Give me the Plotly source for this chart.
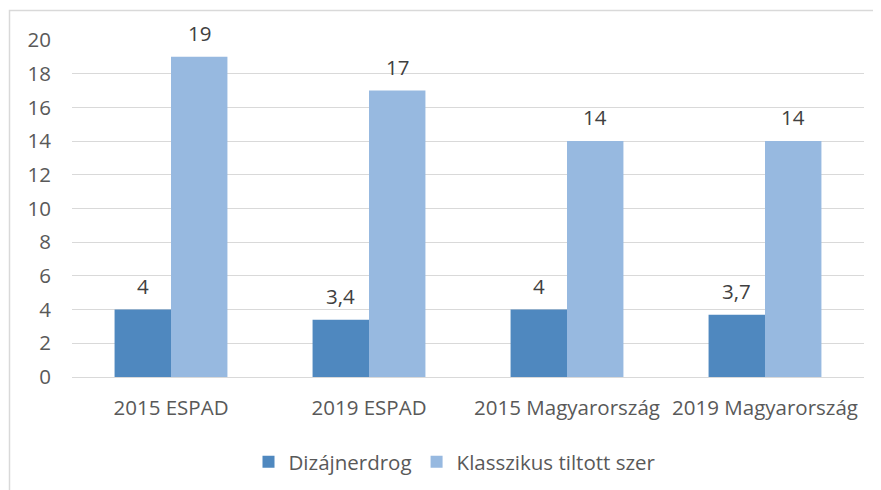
import plotly.graph_objects as go

categories = ["2015 ESPAD", "2019 ESPAD", "2015 Magyarország", "2019 Magyarország"]
dizajnerdrog = [4, 3.4, 4, 3.7]
klasszikus = [19, 17, 14, 14]
series_names = ["Dizájnerdrog", "Klasszikus tiltott szer"]
y_ticks = [0, 2, 4, 6, 8, 10, 12, 14, 16, 18, 20]

def fmt(v):
    return ("%g" % v).replace(".", ",")

FONT = "Open Sans, sans-serif"
FS = 20.5
TXT = "#595959"

fig = go.Figure()
fig.add_trace(go.Bar(
    x=categories, y=dizajnerdrog, name=series_names[0],
    marker=dict(color="#4F88BF", line=dict(width=0)),
))
fig.add_trace(go.Bar(
    x=categories, y=klasszikus, name=series_names[1],
    marker=dict(color="#97B9E0", line=dict(width=0)),
))

OFF = 8  # page body margin
W, H = 881 - OFF, 490 - OFF
L, R, T, B = 72 - OFF, 17, 40 - OFF, 113
pw, ph = W - L - R, H - T - B
# convert page pixel coords to paper coords
def px(x): return (x - OFF - L) / pw
def py(y): return (H - B - (y - OFF)) / ph

bar_w = pw / len(categories) * (1 - 0.43) / 2
annotations = []
for vals, sgn in ((dizajnerdrog, -1), (klasszikus, 1)):
    for c, v in zip(categories, vals):
        annotations.append(dict(
            x=c, y=v, xref="x", yref="y", text=fmt(v), showarrow=False,
            xshift=sgn * bar_w / 2, yanchor="bottom", yshift=8,
            font=dict(family=FONT, size=FS, color="#404040"),
        ))

fig.update_layout(
    width=W, height=H,
    margin=dict(l=L, r=R, t=T, b=B, autoexpand=False),
    paper_bgcolor="white", plot_bgcolor="white",
    barmode="group", bargap=0.43, bargroupgap=0,
    separators=",.",
    font=dict(family=FONT, size=FS, color=TXT),
    showlegend=True,
    legend=dict(orientation="h", x=px(455), xanchor="center", y=py(462), yanchor="middle",
                font=dict(size=FS, color=TXT), itemwidth=30, traceorder="normal",
                itemclick=False),
    xaxis=dict(showgrid=False, showline=False, ticks="", ticklabelstandoff=16,
               automargin=False, tickfont=dict(size=FS, color=TXT)),
    yaxis=dict(range=[0, 20], tickvals=y_ticks, showgrid=True, gridcolor="#D9D9D9",
               gridwidth=1, zeroline=True, zerolinecolor="#D9D9D9", zerolinewidth=1,
               showline=False, ticks="", ticklabelstandoff=20, automargin=False,
               tickfont=dict(size=FS, color=TXT)),
    annotations=annotations,
    shapes=[dict(type="rect", xref="paper", yref="paper",
                 x0=px(9.5), x1=px(900), y0=py(510), y1=py(10.5),
                 line=dict(color="#D9D9D9", width=1.5), fillcolor="rgba(0,0,0,0)", layer="below")],
)

fig.write_html("out.html")
